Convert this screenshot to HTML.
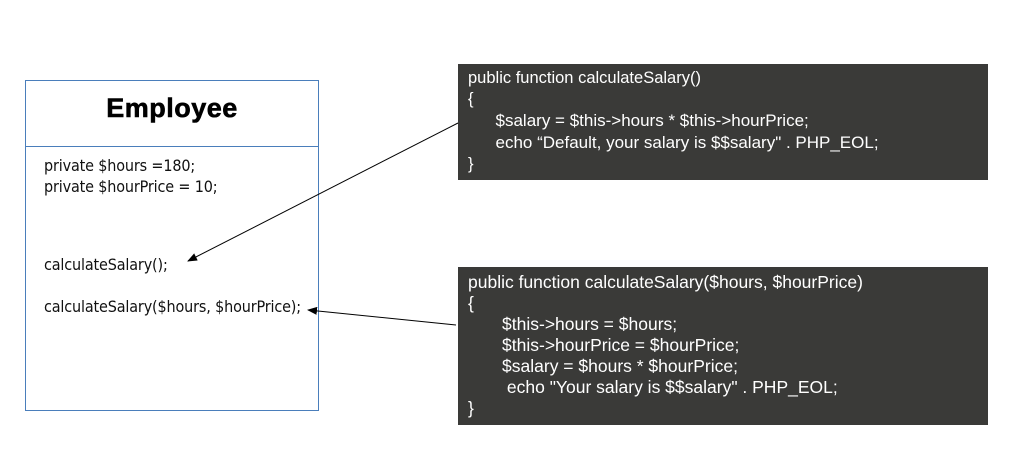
<!DOCTYPE html>
<html><head><style>
body{margin:0;width:1019px;height:460px;background:#fff;position:relative;overflow:hidden;font-family:"Liberation Sans",Arial,sans-serif}
.emp{position:absolute;left:25px;top:80px;width:292px;height:329px;border:1px solid #4a7ebb}
.div{position:absolute;left:0;right:0;top:65px;border-top:1px solid #4a7ebb}
.title{position:absolute;left:0;right:0;top:12px;text-align:center;font-weight:bold;font-size:27px;letter-spacing:0.5px;-webkit-text-stroke:0.6px #000}
.t{position:absolute;font-size:16px;line-height:18px;color:#111;white-space:pre;font-family:"DejaVu Sans Condensed","Liberation Sans",sans-serif;letter-spacing:-0.15px}
.code{position:absolute;background:#3a3a38;color:#fff;font-size:16.5px;line-height:21px;padding:4px 10px;box-sizing:border-box;white-space:pre}
</style></head><body>
<div class="emp"><div class="title">Employee</div><div class="div"></div></div>
<div class="t" style="left:44px;top:157px">private $hours =180;</div>
<div class="t" style="left:44px;top:178px">private $hourPrice = 10;</div>
<div class="t" style="left:44px;top:256px">calculateSalary();</div>
<div class="t" style="left:44px;top:298px">calculateSalary($hours, $hourPrice);</div>
<div class="code" style="left:458px;top:64px;width:530px;height:116px">public function calculateSalary()
{
      <span style="font-size:17px">$salary = $this-&gt;hours * $this-&gt;hourPrice;</span>
      <span style="font-size:17px">echo “Default, your salary is $$salary" . PHP_EOL;</span>
}</div>
<div class="code" style="left:458px;top:267px;width:530px;height:158px;padding-top:5px;font-size:17.5px">public function calculateSalary($hours, $hourPrice)
{
       $this-&gt;hours = $hours;
       $this-&gt;hourPrice = $hourPrice;
       $salary = $hours * $hourPrice;
        echo "Your salary is $$salary" . PHP_EOL;
}</div>
<svg width="1019" height="460" style="position:absolute;left:0;top:0">
<defs><marker id="a" markerWidth="10" markerHeight="8" refX="9" refY="4" orient="auto" markerUnits="userSpaceOnUse"><path d="M0,0L10,4L0,8z" fill="#000"/></marker></defs>
<line x1="458" y1="123" x2="188" y2="261" stroke="#000" stroke-width="1" marker-end="url(#a)"/>
<line x1="456" y1="325" x2="308" y2="310" stroke="#000" stroke-width="1" marker-end="url(#a)"/>
</svg>
</body></html>
